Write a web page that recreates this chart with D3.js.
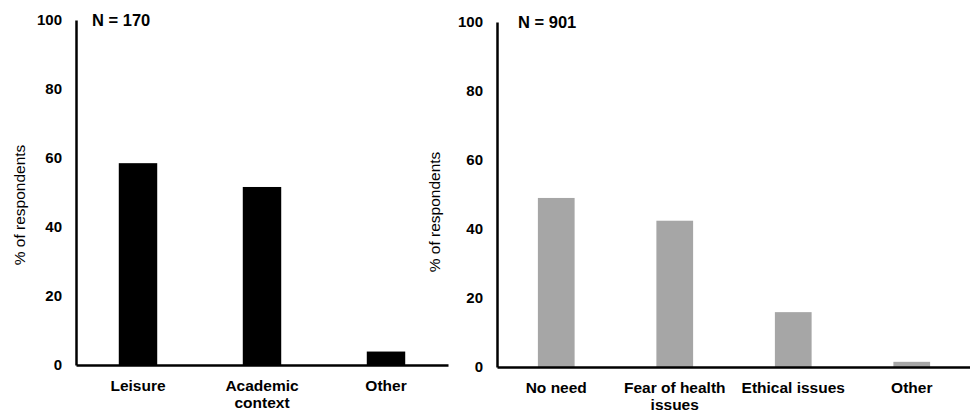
<!DOCTYPE html>
<html>
<head>
<meta charset="utf-8">
<script src="https://cdn.jsdelivr.net/npm/d3@7"></script>
<style>
  body { margin: 0; background: #fff; }
  svg { font-family: "Liberation Sans", Arial, sans-serif; }
</style>
</head>
<body>
<svg id="chart" width="970" height="410"></svg>
<script>
// Left panel: reasons for use (N = 170)
const leftCategories = ["Leisure", "Academic context", "Other"];
const leftLabels = [["Leisure"], ["Academic", "context"], ["Other"]];
const leftValues = [58.5, 51.6, 3.9];

// Right panel: reasons for non-use (N = 901)
const rightCategories = ["No need", "Fear of health issues", "Ethical issues", "Other"];
const rightLabels = [["No need"], ["Fear of health", "issues"], ["Ethical issues"], ["Other"]];
const rightValues = [49.0, 42.4, 15.9, 1.5];

const yTicks = [0, 20, 40, 60, 80, 100];

const svg = d3.select("#chart");

function drawPanel(opts) {
    const g = svg.append("g");

    const x = d3.scaleBand()
        .domain(opts.categories)
        .range([opts.x0, opts.x1])
        .padding(0);

    const y = d3.scaleLinear()
        .domain([0, 100])
        .range([opts.y0, opts.yTop]);

    const barW = x.bandwidth() * 0.31;

    // Bars
    g.selectAll("rect")
        .data(opts.values)
        .enter()
        .append("rect")
        .attr("x", (d, i) => x(opts.categories[i]) + (x.bandwidth() - barW) / 2)
        .attr("width", barW)
        .attr("y", d => y(d))
        .attr("height", d => opts.y0 - y(d))
        .attr("fill", opts.color);

    // Y Axis
    const yAxis = g.append("g")
        .attr("transform", `translate(${opts.x0},0)`)
        .call(d3.axisLeft(y).tickValues(yTicks).tickSize(0).tickPadding(14));
    yAxis.select(".domain").attr("stroke", "#000").attr("stroke-width", 2.5);
    yAxis.selectAll("text")
        .attr("font-size", "15px")
        .attr("font-weight", "bold")
        .attr("font-family", "Liberation Sans, Arial, sans-serif")
        .attr("fill", "#000");

    // X Axis
    const xAxis = g.append("g")
        .attr("transform", `translate(0,${opts.y0})`)
        .call(d3.axisBottom(x).tickSize(0).tickFormat(""));
    xAxis.select(".domain").attr("stroke", "#000").attr("stroke-width", 2.5);

    // Category labels (wrapped)
    opts.categories.forEach((c, i) => {
        const t = g.append("text")
            .attr("x", x(c) + x.bandwidth() / 2)
            .attr("y", opts.y0 + 26)
            .attr("text-anchor", "middle")
            .attr("font-size", "15.5px")
            .attr("font-weight", "bold")
            .attr("fill", "#000");
        opts.labels[i].forEach((line, j) => {
            t.append("tspan")
                .attr("x", x(c) + x.bandwidth() / 2)
                .attr("dy", j === 0 ? 0 : 17)
                .text(line);
        });
    });

    // Y Axis Label
    g.append("text")
        .attr("transform", "rotate(-90)")
        .attr("x", -opts.labelY)
        .attr("y", opts.labelX)
        .attr("text-anchor", "middle")
        .attr("font-size", "15.5px")
        .attr("fill", "#000")
        .text("% of respondents");

    // N label
    g.append("text")
        .attr("x", opts.nX)
        .attr("y", opts.yTop + 6)
        .attr("font-size", "16.5px")
        .attr("font-weight", "bold")
        .attr("fill", "#000")
        .text(opts.nText);
}

drawPanel({
    categories: leftCategories, labels: leftLabels, values: leftValues,
    color: "#000000",
    x0: 76, x1: 448, y0: 365, yTop: 20,
    labelX: 25, labelY: 205,
    nX: 92, nText: "N = 170"
});

drawPanel({
    categories: rightCategories, labels: rightLabels, values: rightValues,
    color: "#a6a6a6",
    x0: 497, x1: 971, y0: 367, yTop: 22,
    labelX: 440, labelY: 212,
    nX: 518, nText: "N = 901"
});
</script>
</body>
</html>
